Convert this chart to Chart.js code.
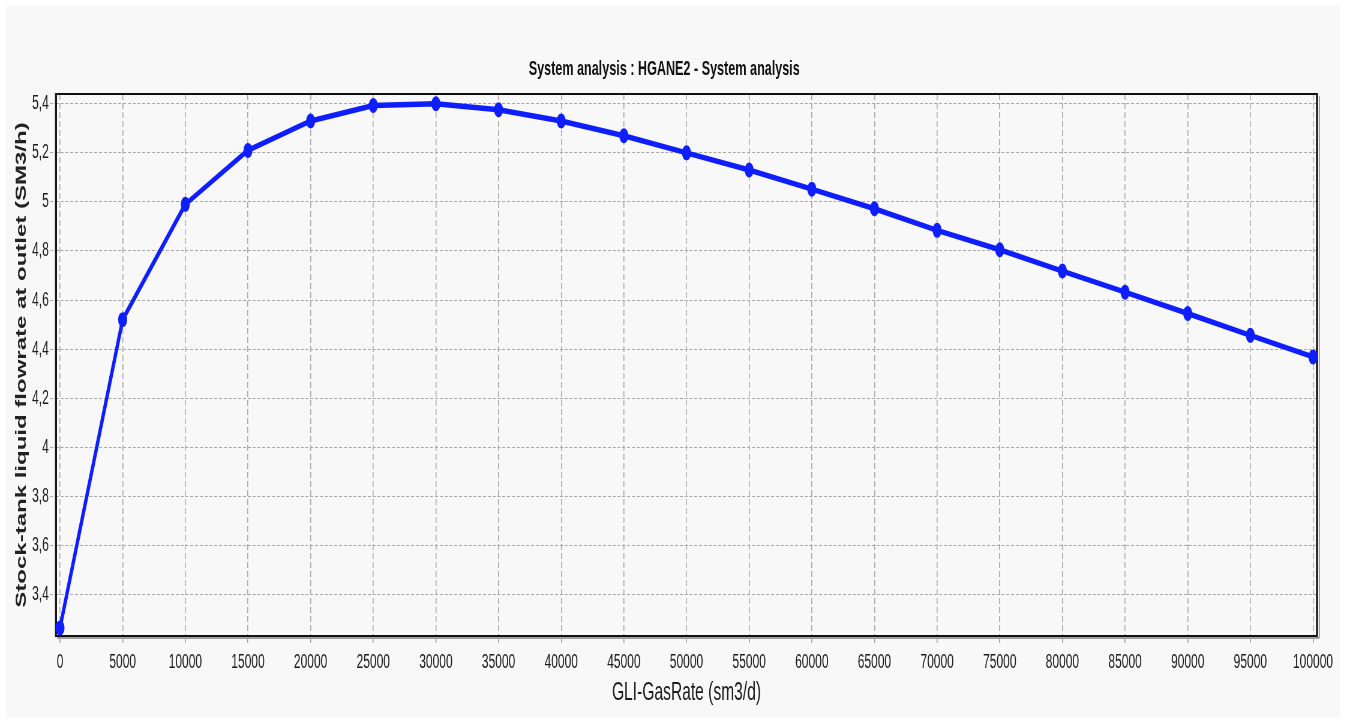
<!DOCTYPE html>
<html>
<head>
<meta charset="utf-8">
<script src="https://cdn.jsdelivr.net/npm/chart.js@4.4.1/dist/chart.umd.min.js"></script>
<style>
  html, body { margin: 0; padding: 0; background: #ffffff; overflow: hidden; width: 1346px; height: 724px; }
  /* the plot is laid out on a wide canvas and condensed horizontally */
  #wrap { position: absolute; left: 0; top: 0; width: 2244px; height: 724px; transform: scaleX(0.6); transform-origin: 0 0; }
</style>
</head>
<body>
<div id="wrap"><canvas id="c" width="2244" height="724"></canvas></div>
<script>
// Gas-lift injection rate (sm3/d) and resulting stock-tank liquid rate (SM3/h)
const gasRates = [0, 5000, 10000, 15000, 20000, 25000, 30000, 35000, 40000, 45000, 50000,
                  55000, 60000, 65000, 70000, 75000, 80000, 85000, 90000, 95000, 100000];
const liquidRates = [3.263, 4.52, 4.99, 5.21, 5.33, 5.393, 5.40, 5.376, 5.33, 5.27, 5.20,
                     5.13, 5.052, 4.972, 4.884, 4.805, 4.718, 4.632, 4.545, 4.456, 4.368];

const xTickValues = [0, 5000, 10000, 15000, 20000, 25000, 30000, 35000, 40000, 45000, 50000,
                     55000, 60000, 65000, 70000, 75000, 80000, 85000, 90000, 95000, 100000];
const xTickLabels = ['0', '5000', '10000', '15000', '20000', '25000', '30000', '35000', '40000', '45000', '50000',
                     '55000', '60000', '65000', '70000', '75000', '80000', '85000', '90000', '95000', '100000'];
const yTickValues = [3.4, 3.6, 3.8, 4.0, 4.2, 4.4, 4.6, 4.8, 5.0, 5.2, 5.4];
const yTickLabels = ['3,4', '3,6', '3,8', '4', '4,2', '4,4', '4,6', '4,8', '5', '5,2', '5,4'];

const chartTitle = 'System analysis : HGANE2 - System analysis';
const xAxisTitle = 'GLI-GasRate (sm3/d)';
const yAxisTitle = 'Stock-tank liquid flowrate at outlet (SM3/h)';

const FONT = "'Liberation Sans', Arial, sans-serif";
const TEXT = '#1c1c1c';
const BLUE = '#0f1eff';
const PANEL = '#f8f8f8';

// light panel behind the whole chart
const panelPlugin = {
  id: 'panel',
  beforeDraw(chart) {
    const ctx = chart.ctx;
    ctx.save();
    ctx.fillStyle = '#ffffff';
    ctx.fillRect(0, 0, chart.width, chart.height);
    ctx.fillStyle = PANEL;
    ctx.fillRect(10, 6, 2223, 712);
    ctx.restore();
  }
};

// plot frame with a soft shadow, plus the chart heading
const framePlugin = {
  id: 'frame',
  beforeDatasetsDraw(chart) {
    const { ctx, chartArea: a } = chart;
    ctx.save();
    // shadow
    ctx.strokeStyle = '#a0a0a0';
    ctx.lineWidth = 2;
    ctx.beginPath();
    ctx.moveTo(a.left + 2, a.bottom + 2);
    ctx.lineTo(a.right + 4, a.bottom + 2);
    ctx.moveTo(a.right + 4, a.top + 2);
    ctx.lineTo(a.right + 4, a.bottom + 2);
    ctx.stroke();
    // frame
    ctx.strokeStyle = '#111111';
    ctx.lineWidth = 2;
    ctx.beginPath();
    ctx.moveTo(a.left, a.top);
    ctx.lineTo(a.right, a.top);
    ctx.moveTo(a.left, a.bottom);
    ctx.lineTo(a.right, a.bottom);
    ctx.stroke();
    ctx.lineWidth = 3.3;
    ctx.beginPath();
    ctx.moveTo(a.left, a.top - 1);
    ctx.lineTo(a.left, a.bottom + 1);
    ctx.moveTo(a.right, a.top - 1);
    ctx.lineTo(a.right, a.bottom + 1);
    ctx.stroke();
    // heading
    ctx.fillStyle = '#111111';
    ctx.font = 'bold 21px ' + FONT;
    ctx.textAlign = 'center';
    ctx.textBaseline = 'alphabetic';
    ctx.fillText(chartTitle, 1107, 75);
    ctx.restore();
  }
};

new Chart(document.getElementById('c'), {
  type: 'line',
  data: {
    datasets: [{
      data: gasRates.map((x, i) => ({ x: x, y: liquidRates[i] })),
      borderColor: BLUE,
      backgroundColor: BLUE,
      borderWidth: 5.5,
      tension: 0,
      pointRadius: 7.5,
      pointBorderWidth: 0,
      pointBackgroundColor: BLUE,
      clip: false
    }]
  },
  options: {
    responsive: false,
    devicePixelRatio: 1,
    animation: false,
    layout: { padding: { top: 94, right: 49, bottom: 0, left: 0 } },
    plugins: {
      legend: { display: false },
      tooltip: { enabled: false },
      title: { display: false }
    },
    scales: {
      x: {
        type: 'linear',
        min: -320,
        max: 100320,
        afterBuildTicks: s => { s.ticks = xTickValues.map(v => ({ value: v })); },
        afterFit: s => { s.height = 88; },
        border: { display: false, dash: [6, 3] },
        grid: {
          color: '#a8a8a8',
          lineWidth: 1.6,
          tickLength: 7,
          tickColor: '#a0a0a0',
          tickBorderDash: []
        },
        ticks: {
          autoSkip: false,
          maxRotation: 0,
          padding: 7,
          color: TEXT,
          font: { family: FONT, size: 20 },
          callback: (v, i) => xTickLabels[i]
        },
        title: {
          display: true,
          text: xAxisTitle,
          color: TEXT,
          font: { family: FONT, size: 26 },
          padding: { top: 0, bottom: 16 }
        }
      },
      y: {
        type: 'linear',
        min: 3.23,
        max: 5.44,
        afterBuildTicks: s => { s.ticks = yTickValues.map(v => ({ value: v })); },
        afterFit: s => { s.width = 93.3; },
        border: { display: false, dash: [5, 3] },
        grid: {
          color: '#a8a8a8',
          lineWidth: 1,
          tickLength: 10,
          tickColor: '#a8a8a8',
          tickBorderDash: [5, 3]
        },
        ticks: {
          padding: 2,
          color: TEXT,
          font: { family: FONT, size: 20 },
          callback: (v, i) => yTickLabels[i]
        },
        title: {
          display: true,
          text: yAxisTitle,
          color: '#222222',
          font: { family: FONT, size: 24, weight: 'bold' },
          padding: { top: 22, bottom: 0 }
        }
      }
    }
  },
  plugins: [panelPlugin, framePlugin]
});
</script>
</body>
</html>
